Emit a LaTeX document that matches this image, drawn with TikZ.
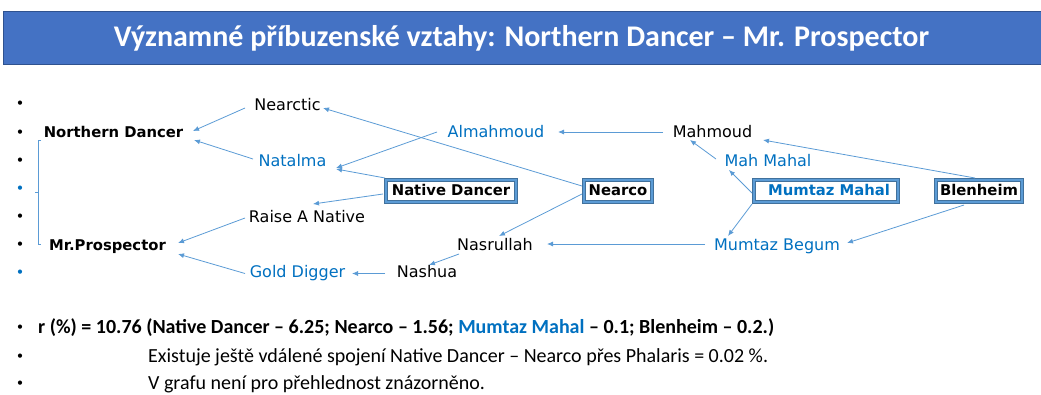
\documentclass[tikz,border=0pt]{standalone}
\usepackage{fontspec}
\setmainfont{Carlito}
\newfontfamily\dv{DejaVu Sans}
\usetikzlibrary{arrows.meta,calc}
\definecolor{titlebg}{HTML}{4472C4}
\definecolor{titleedge}{HTML}{2F528F}
\definecolor{lineblue}{HTML}{5B9BD5}
\definecolor{txtblue}{HTML}{0070C0}
\definecolor{boxedge}{HTML}{41719C}
\begin{document}
\begin{tikzpicture}[x=1pt,y=-1pt,
 horse/.style={font=\dv\fontsize{16}{18}\selectfont, inner sep=3pt, text height=11.5pt, text depth=3pt},
 hb/.style={horse,text=txtblue},
 sire/.style={font=\dv\bfseries\fontsize{14.8}{17}\selectfont, inner sep=0pt, text height=11pt, text depth=3pt},
 keybox/.style={sire, draw=boxedge, line width=0.7pt, double=lineblue, double distance=2.6pt, fill=white, minimum height=22pt, outer sep=2pt},
 arr/.style={draw=lineblue, line width=0.8pt, -{Latex[length=6pt,width=5pt]}},
 bul/.style={font=\fontsize{12}{12}\selectfont, inner sep=0pt},
 bottom/.style={anchor=west, inner sep=0pt, font=\fontsize{20}{22}\selectfont},
]
\useasboundingbox (0,0) rectangle (1041,394);
% title
\path[fill=titlebg, draw=titleedge, line width=0.8pt] (3,11) rectangle (1045,64);
\node[font=\bfseries\fontsize{30}{32}\selectfont, text=white] (title) at (521.5,38) {Významné příbuzenské vztahy: Northern Dancer – Mr. Prospector};
% bullets
\foreach \yy/\cc [count=\i] in {104/black,133/black,161/black,189/txtblue,217/black,245/black,273/txtblue,328/black,357/black,384/black}
  \node[bul, text=\cc] (b\i) at (20,\yy) {•};
% bracket
\draw[lineblue, line width=0.8pt] (41,140) -- (38.3,140) -- (38.3,244) -- (41,244);
\draw[lineblue, line width=0.8pt] (35,192) -- (38.3,192);
% horses
\node[horse] (nearctic) at (287.5,106) {Nearctic};
\node[sire, inner sep=2pt] (northern) at (113.5,133) {Northern Dancer};
\node[hb] (natalma) at (292.5,162) {Natalma};
\node[horse] (raise) at (307,218) {Raise A Native};
\node[sire, inner sep=2pt] (mrp) at (107.5,246) {Mr.Prospector};
\node[hb] (gold) at (297.5,273.5) {Gold Digger};
\node[hb] (almahmoud) at (496,133) {Almahmoud};
\node[keybox, minimum width=130pt] (nativedancer) at (451,191) {Native Dancer};
\node[keybox, minimum width=68pt] (nearco) at (618,191) {Nearco};
\node[horse] (mahmoud) at (712.5,133) {Mahmoud};
\node[hb] (mahmahal) at (768,162) {Mah Mahal};
\node[keybox, minimum width=144pt, text=txtblue] (mumtazmahal) at (826,191) {\hspace*{6pt}Mumtaz Mahal};
\node[keybox, minimum width=86pt] (blenheim) at (979,191) {Blenheim};
\node[horse] (nasrullah) at (495,246) {Nasrullah};
\node[horse] (nashua) at (427,273.5) {Nashua};
\node[hb] (mumtazbegum) at (777,246) {Mumtaz Begum};
% connectors
\draw[arr] ($(nearco)+(-36,-5)$) -- ($(nearctic)+(35.5,2)$);
\draw[arr] ($(nearctic)+(-42.5,2)$) -- ($(northern)+(79.5,-2)$);
\draw[arr] ($(natalma)+(-39.5,-3)$) -- ($(northern)+(80.5,7)$);
\draw[arr] ($(almahmoud)+(-59,-1)$) -- ($(natalma)+(43.5,6)$);
\draw[arr] ($(nativedancer)+(-66,-13)$) -- ($(natalma)+(43.5,7)$);
\draw[arr] ($(nativedancer)+(-68,3)$) -- ($(raise)+(6,-14)$);
\draw[arr] ($(raise)+(-62,0)$) -- ($(mrp)+(70.5,-3)$);
\draw[arr] ($(gold)+(-52.5,0)$) -- ($(mrp)+(70.5,8)$);
\draw[arr] ($(nashua)+(-42,0)$) -- ($(gold)+(54.5,0)$);
\draw[arr] ($(nasrullah)+(-36,8)$) -- ($(nashua)+(2,-8.5)$);
\draw[arr] ($(nearco)+(-36,3)$) -- ($(nasrullah)+(4,-10)$);
\draw[arr] ($(mumtazbegum)+(-72,-2)$) -- ($(nasrullah)+(52,-2)$);
\draw[arr] ($(mahmoud)+(-49.5,-1)$) -- ($(almahmoud)+(62,-1)$);
\draw[arr] ($(mahmahal)+(-52,-3)$) -- ($(mahmoud)+(-22.5,7)$);
\draw[arr] ($(mumtazmahal)+(-74,2)$) -- ($(mahmahal)+(-39,8)$);
\draw[arr] ($(mumtazmahal)+(-74,13)$) -- ($(mumtazbegum)+(-49,-10)$);
\draw[arr] ($(blenheim)+(-4,-13)$) -- ($(mahmoud)+(50.5,7)$);
\draw[arr] ($(blenheim)+(-15,14)$) -- ($(mumtazbegum)+(70,-3)$);
% bottom text
\node[bottom, font=\bfseries\fontsize{20}{22}\selectfont] (rline) at (38,328) {r (\%) = 10.76 (Native Dancer – 6.25; Nearco – 1.56; \textcolor{txtblue}{Mumtaz Mahal} – 0.1; Blenheim – 0.2.)};
\node[bottom] (exist) at (148,357) {Existuje ještě vdálené spojení Native Dancer – Nearco přes Phalaris = 0.02 \%.};
\node[bottom] (graf) at (148,384) {V grafu není pro přehlednost znázorněno.};
\end{tikzpicture}
\end{document}
